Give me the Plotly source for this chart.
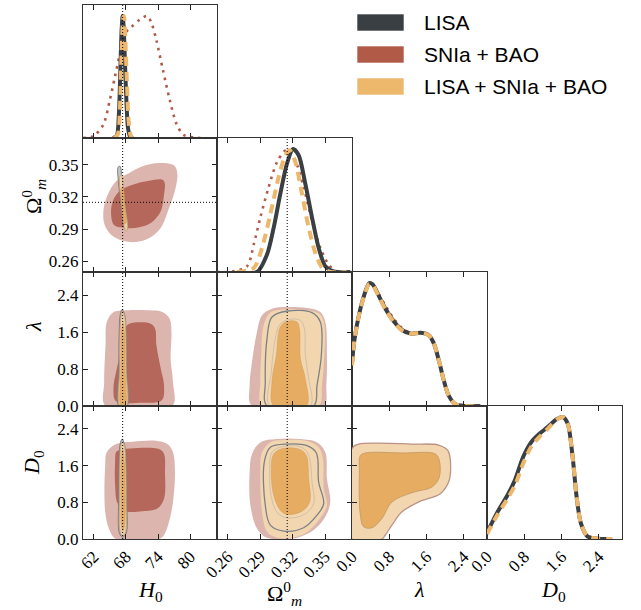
import plotly.graph_objects as go

# ---------------- data ----------------
H0_FID = 67.4
OM_FID = 0.315

H0_TICKS = [62, 68, 74, 80]
OM_TICKS = [0.26, 0.29, 0.32, 0.35]
LD_TICKS = [0.0, 0.8, 1.6, 2.4]
H0_RANGE = [60, 85]
OM_RANGE = [0.25, 0.375]
LD_RANGE = [0, 2.9]
PDF_RANGE = [0, 1.09]

SERIES = ["LISA", "SNIa + BAO", "LISA + SNIa + BAO"]

# 1D marginal: H0
h0_snia_x = [60.0, 61.9, 63.8, 65.0, 65.95, 66.9, 68.1, 69.05, 70.6, 72.0, 72.8, 73.7, 74.9, 76.2, 77.4, 78.7, 80.5, 82.4]
h0_snia_y = [0.0, 0.014, 0.11, 0.31, 0.50, 0.69, 0.87, 0.91, 0.97, 1.0, 0.94, 0.80, 0.56, 0.31, 0.12, 0.027, 0.005, 0.0]
h0_lisa_x = [65.6, 66.3, 66.7, 67.0, 67.2, 67.4, 67.6, 67.8, 68.1, 68.4, 68.8, 69.3]
h0_lisa_y = [0.0, 0.02, 0.2, 0.6, 0.88, 1.0, 0.9, 0.65, 0.3, 0.08, 0.01, 0.0]
h0_comb_x = [65.8, 66.5, 66.9, 67.2, 67.5, 67.65, 67.9, 68.2, 68.5, 68.9, 69.3]
h0_comb_y = [0.0, 0.03, 0.25, 0.7, 0.98, 1.0, 0.8, 0.45, 0.15, 0.02, 0.0]

# 1D marginal: Omega_m
om_lisa_x = [0.2685, 0.287, 0.2963, 0.3025, 0.3086, 0.3148, 0.3204, 0.3256, 0.3318, 0.338, 0.3441, 0.3503, 0.358, 0.3734]
om_lisa_y = [0.0, 0.0, 0.142, 0.361, 0.635, 0.881, 1.0, 0.95, 0.717, 0.443, 0.197, 0.047, 0.005, 0.0]
om_snia_x = [0.25, 0.2608, 0.2778, 0.284, 0.2901, 0.2978, 0.3056, 0.3133, 0.3163, 0.3225, 0.3302, 0.338, 0.3457, 0.3534, 0.3611, 0.375]
om_snia_y = [0.0, 0.0, 0.047, 0.224, 0.443, 0.69, 0.895, 0.99, 0.99, 0.91, 0.69, 0.416, 0.197, 0.06, 0.0, 0.0]
om_comb_x = [0.2685, 0.284, 0.2917, 0.2994, 0.3071, 0.3133, 0.3173, 0.3225, 0.3287, 0.3349, 0.341, 0.3472, 0.3549, 0.37]
om_comb_y = [0.0, 0.033, 0.197, 0.471, 0.772, 0.95, 0.99, 0.895, 0.635, 0.361, 0.156, 0.038, 0.0, 0.0]

# 1D marginal: lambda
lam_x = [0.0, 0.05, 0.157, 0.264, 0.371, 0.441, 0.584, 0.727, 0.905, 1.083, 1.261, 1.475, 1.653, 1.76, 1.867, 1.974, 2.081, 2.223, 2.437, 2.757]
lam_lisa_y = [0.342, 0.534, 0.753, 0.904, 1.0, 0.99, 0.89, 0.786, 0.685, 0.616, 0.589, 0.595, 0.575, 0.507, 0.37, 0.205, 0.082, 0.014, 0.0, 0.0]
lam_snia_y = [0.342, 0.534, 0.753, 0.904, 1.0, 0.99, 0.905, 0.81, 0.705, 0.63, 0.595, 0.597, 0.575, 0.507, 0.37, 0.205, 0.082, 0.014, 0.0, 0.0]
lam_comb_y = [0.33, 0.53, 0.75, 0.90, 0.995, 0.985, 0.885, 0.78, 0.68, 0.612, 0.588, 0.595, 0.575, 0.507, 0.37, 0.205, 0.082, 0.014, 0.0, 0.0]

# 1D marginal: D0
d0_x = [0.0, 0.212, 0.424, 0.601, 0.778, 0.955, 1.132, 1.309, 1.485, 1.627, 1.733, 1.839, 1.924, 2.016, 2.157, 2.334, 2.688]
d0_lisa_y = [0.05, 0.212, 0.348, 0.484, 0.674, 0.796, 0.864, 0.919, 0.979, 1.0, 0.946, 0.674, 0.348, 0.130, 0.022, 0.005, 0.0]
d0_snia_y = [0.05, 0.215, 0.352, 0.49, 0.68, 0.80, 0.866, 0.92, 0.979, 1.0, 0.946, 0.674, 0.348, 0.130, 0.022, 0.005, 0.0]
d0_comb_y = [0.04, 0.19, 0.32, 0.44, 0.62, 0.76, 0.84, 0.905, 0.975, 1.0, 0.946, 0.674, 0.348, 0.130, 0.022, 0.005, 0.0]

# 2D contours (x, y)
# --- H0 vs Omega_m
snia95_h0_om = [(76.98, 0.3495), (74.2, 0.3517), (71.1, 0.3486), (68.64, 0.3424), (66.17, 0.3346), (64.63, 0.3222),
                (63.83, 0.3082), (64.01, 0.2942), (65.25, 0.2848), (67.41, 0.2792), (69.88, 0.278), (72.35, 0.2817),
                (74.51, 0.2911), (76.05, 0.3097), (77.28, 0.3284), (77.59, 0.3424)]
snia68_h0_om = [(74.81, 0.3361), (72.35, 0.3352), (69.26, 0.3315), (66.79, 0.3253), (65.56, 0.3159), (65.25, 0.3035),
                (65.86, 0.2935), (68.02, 0.2911), (70.49, 0.2917), (72.65, 0.2957), (74.51, 0.3066), (75.12, 0.3222),
                (75.25, 0.333)]
lisa95_h0_om = [(66.54, 0.3477), (66.91, 0.3486), (67.28, 0.3346), (67.84, 0.3128), (68.33, 0.2917), (68.09, 0.2886),
                (67.65, 0.2926), (67.1, 0.3128), (66.6, 0.3346)]
comb95_h0_om = [(66.85, 0.3386), (67.16, 0.3408), (67.78, 0.3128), (68.33, 0.2911), (68.09, 0.288), (67.78, 0.2904),
                (67.22, 0.3128)]
comb68_h0_om = [(67.16, 0.3284), (67.4, 0.329), (67.84, 0.3097), (68.02, 0.2957), (67.78, 0.2948), (67.35, 0.3097)]

# --- H0 vs lambda
snia95_h0_lam = [(64.2, 0.0), (63.95, 0.519), (64.2, 1.313), (64.44, 1.818), (65.56, 2.02), (68.02, 2.07), (72.35, 2.07),
                 (74.81, 2.034), (76.17, 1.89), (76.5, 1.6), (76.35, 1.024), (76.78, 0.519), (76.66, 0.0)]
snia68_h0_lam = [(68.64, 1.782), (72.65, 1.782), (73.45, 1.674), (73.7, 1.313), (74.51, 0.808), (75.12, 0.447),
                 (74.69, 0.123), (70.49, 0.072), (66.17, 0.101), (65.68, 0.375), (66.3, 0.808), (67.72, 1.457), (68.02, 1.71)]
lisa95_h0_lam = [(66.7, 0.0), (66.68, 0.8), (66.75, 1.6), (66.95, 1.98), (67.3, 2.09), (67.75, 1.98), (68.05, 1.6),
                 (68.15, 0.8), (68.2, 0.0)]
comb95_h0_lam = [(66.88, 0.0), (66.86, 0.8), (66.92, 1.6), (67.1, 1.95), (67.4, 2.05), (67.75, 1.95), (67.98, 1.6),
                 (68.05, 0.8), (68.08, 0.0)]
comb68_h0_lam = [(67.1, 0.0), (67.1, 0.8), (67.15, 1.55), (67.45, 1.8), (67.75, 1.55), (67.82, 0.8), (67.84, 0.0)]

# --- H0 vs D0
snia95_h0_d0 = [(66.17, 0.0), (64.94, 0.195), (64.14, 0.592), (64.14, 1.602), (64.44, 1.89), (66.17, 2.07), (69.26, 2.121),
                (73.58, 2.143), (75.74, 2.07), (76.79, 1.89), (77.16, 1.457), (76.79, 0.808), (76.05, 0.375),
                (75.12, 0.087), (74.2, 0.0)]
snia68_h0_d0 = [(66.17, 1.89), (66.79, 1.94), (74.2, 1.962), (75.12, 1.854), (75.3, 1.457), (75.12, 0.88), (73.88, 0.664),
                (71.1, 0.606), (68.02, 0.606), (66.48, 0.772), (65.99, 1.169), (65.99, 1.674)]
lisa95_h0_d0 = [(66.8, 0.12), (66.62, 0.8), (66.7, 1.6), (66.9, 2.05), (67.3, 2.18), (67.75, 2.05), (68.05, 1.6),
                (68.18, 0.8), (68.05, 0.12), (67.4, 0.04)]
comb95_h0_d0 = [(66.95, 0.15), (66.8, 0.8), (66.86, 1.6), (67.05, 2.02), (67.4, 2.12), (67.75, 2.02), (67.98, 1.6),
                (68.05, 0.8), (67.95, 0.15), (67.45, 0.06)]
comb68_h0_d0 = [(67.15, 0.3), (67.08, 0.8), (67.12, 1.6), (67.4, 1.96), (67.75, 1.6), (67.84, 0.8), (67.75, 0.3),
                (67.45, 0.18)]

# --- Omega_m vs lambda
snia95_om_lam = [(0.2824, 0.0), (0.2802, 0.447), (0.2824, 0.952), (0.2864, 1.529), (0.2917, 1.962), (0.3009, 2.106),
                 (0.3148, 2.143), (0.3333, 2.121), (0.3457, 2.034), (0.3503, 1.818), (0.3518, 1.097), (0.3512, 0.447),
                 (0.3488, 0.0)]
comb95_om_lam = [(0.2917, 0.0), (0.2901, 0.519), (0.291, 1.097), (0.2932, 1.746), (0.2994, 2.02), (0.3148, 2.092),
                 (0.3333, 2.07), (0.3457, 1.977), (0.3494, 1.746), (0.3494, 1.097), (0.3472, 0.447), (0.3441, 0.0)]
lisa95_om_lam = [(0.2963, 0.0), (0.2947, 0.519), (0.2963, 1.457), (0.3009, 1.926), (0.3154, 2.056), (0.3379, 2.02),
                 (0.3457, 1.818), (0.3466, 1.097), (0.3426, 0.447), (0.3395, 0.0)]
comb68_om_lam = [(0.3025, 0.0), (0.3009, 0.519), (0.3049, 1.097), (0.3086, 1.71), (0.3148, 1.832), (0.3241, 1.818),
                 (0.3265, 1.638), (0.3272, 1.024), (0.3318, 0.592), (0.3327, 0.0)]
lisa68_om_lam = [(0.2988, 0.0), (0.3003, 0.736), (0.304, 1.457), (0.308, 1.76), (0.3154, 1.868), (0.3272, 1.854),
                 (0.3309, 1.674), (0.3318, 1.097), (0.3349, 0.592), (0.3364, 0.0)]

# --- Omega_m vs D0
snia95_om_d0 = [(0.2963, 0.029), (0.287, 0.231), (0.2809, 0.736), (0.2802, 1.457), (0.2824, 1.854), (0.2901, 2.106),
                (0.3056, 2.179), (0.3272, 2.179), (0.3426, 2.106), (0.3503, 1.89), (0.3518, 1.313), (0.3549, 0.808),
                (0.3503, 0.483), (0.3395, 0.195), (0.3241, 0.029)]
comb95_om_d0 = [(0.3056, 0.029), (0.2963, 0.159), (0.2917, 0.592), (0.2901, 1.457), (0.2917, 1.89), (0.2994, 2.106),
                (0.3148, 2.157), (0.3333, 2.135), (0.3441, 1.998), (0.3481, 1.746), (0.3488, 1.097), (0.3518, 0.736),
                (0.3441, 0.411), (0.3318, 0.123), (0.3194, 0.029)]
lisa95_om_d0 = [(0.2938, 1.674), (0.2994, 1.998), (0.3154, 2.07), (0.3333, 2.034), (0.342, 1.876), (0.3441, 1.241),
                (0.3488, 0.772), (0.3426, 0.519), (0.3302, 0.245), (0.3117, 0.173), (0.2994, 0.303), (0.2947, 0.736)]
comb68_om_d0 = [(0.3025, 1.854), (0.3117, 1.977), (0.3272, 1.948), (0.3327, 1.818), (0.3349, 1.313), (0.3358, 0.808),
                (0.3287, 0.606), (0.3148, 0.534), (0.3086, 0.628), (0.3025, 0.952), (0.3003, 1.457)]
lisa68_om_d0 = [(0.2988, 1.457), (0.3009, 1.89), (0.3117, 2.02), (0.3287, 1.998), (0.3349, 1.818), (0.338, 1.241),
                (0.3395, 0.772), (0.3309, 0.534), (0.3148, 0.462), (0.3056, 0.577), (0.3, 0.952)]

# --- lambda vs D0
comb95_lam_d0 = [(0.0, 0.0), (0.0, 1.977), (0.143, 2.07), (0.573, 2.092), (1.289, 2.07), (1.862, 2.049), (2.062, 1.926),
                 (2.119, 1.602), (2.076, 1.241), (1.897, 0.988), (1.432, 0.808), (1.074, 0.592), (0.859, 0.303),
                 (0.716, 0.087), (0.644, 0.0)]
comb68_lam_d0 = [(0.179, 1.818), (0.286, 1.876), (1.074, 1.876), (1.79, 1.854), (1.876, 1.71), (1.876, 1.349),
                 (1.718, 1.133), (1.289, 1.01), (0.859, 0.808), (0.644, 0.447), (0.43, 0.245), (0.251, 0.267),
                 (0.179, 0.519), (0.158, 1.457)]

# ---------------- styling ----------------
W, H = 641, 610
C_LISA = "#3a3f44"
C_SNIA = "#b15a48"
C_COMB = "#edb76c"
PINK95 = "#dcb6ae"
RED68 = "#b4675a"
LOR95 = "#f2d6b0"
OR68 = "#e6ad62"
GRAYL = "#7d8186"
SERIF = "Liberation Serif"
SANS = "Liberation Sans"
TICKSIZE = 17

COLS = [(83, 217), (217, 352), (352, 487), (487, 622)]
ROWS = [(5, 138), (138, 272), (272, 406), (406, 539)]
PARAM_RANGE = [H0_RANGE, OM_RANGE, LD_RANGE, LD_RANGE]
PARAM_TICKS = [H0_TICKS, OM_TICKS, LD_TICKS, LD_TICKS]
PARAM_FMT = ["d", ".2f", ".1f", ".1f"]

panels = [(r, c) for r in range(4) for c in range(r + 1)]
axid = {p: i + 1 for i, p in enumerate(panels)}

fig = go.Figure()


def axnames(r, c):
    n = axid[(r, c)]
    return ("x" if n == 1 else f"x{n}"), ("y" if n == 1 else f"y{n}")


def poly(r, c, pts, fill, line="rgba(0,0,0,0)", lw=0.0, dofill=True):
    xa, ya = axnames(r, c)
    xs = [p[0] for p in pts] + [pts[0][0]]
    ys = [p[1] for p in pts] + [pts[0][1]]
    fig.add_trace(go.Scatter(x=xs, y=ys, mode="lines", fill="toself" if dofill else "none",
                             fillcolor=fill, line=dict(color=line, width=lw, shape="spline", smoothing=1.0),
                             xaxis=xa, yaxis=ya, hoverinfo="skip", showlegend=False))


def curve(r, c, x, y, color, width, dash):
    xa, ya = axnames(r, c)
    fig.add_trace(go.Scatter(x=x, y=y, mode="lines",
                             line=dict(color=color, width=width, dash=dash, shape="spline", smoothing=0.8),
                             xaxis=xa, yaxis=ya, hoverinfo="skip", showlegend=False))


def vline(r, c, xv, yr):
    xa, ya = axnames(r, c)
    fig.add_trace(go.Scatter(x=[xv, xv], y=yr, mode="lines", line=dict(color="black", width=1, dash="1px,2px"),
                             xaxis=xa, yaxis=ya, hoverinfo="skip", showlegend=False))


def hline(r, c, yv, xr):
    xa, ya = axnames(r, c)
    fig.add_trace(go.Scatter(x=xr, y=[yv, yv], mode="lines", line=dict(color="black", width=1, dash="1px,2px"),
                             xaxis=xa, yaxis=ya, hoverinfo="skip", showlegend=False))


def marg(r, lx, ly, sx, sy, cx, cy):
    curve(r, r, sx, sy, C_SNIA, 2.6, "2.6px,5px")
    curve(r, r, lx, ly, C_LISA, 4, "solid")
    curve(r, r, cx, cy, C_COMB, 4, "9px,6px")


# diagonals
marg(0, h0_lisa_x, h0_lisa_y, h0_snia_x, h0_snia_y, h0_comb_x, h0_comb_y)
vline(0, 0, H0_FID, PDF_RANGE)
marg(1, om_lisa_x, om_lisa_y, om_snia_x, om_snia_y, om_comb_x, om_comb_y)
vline(1, 1, OM_FID, PDF_RANGE)
marg(2, lam_x, lam_lisa_y, lam_x, lam_snia_y, lam_x, lam_comb_y)
marg(3, d0_x, d0_lisa_y, d0_x, d0_snia_y, d0_x, d0_comb_y)

# H0 column
for r, s95, s68, l95, c95, c68, yr in [
    (1, snia95_h0_om, snia68_h0_om, lisa95_h0_om, comb95_h0_om, comb68_h0_om, OM_RANGE),
    (2, snia95_h0_lam, snia68_h0_lam, lisa95_h0_lam, comb95_h0_lam, comb68_h0_lam, LD_RANGE),
    (3, snia95_h0_d0, snia68_h0_d0, lisa95_h0_d0, comb95_h0_d0, comb68_h0_d0, LD_RANGE)]:
    poly(r, 0, s95, PINK95)
    poly(r, 0, s68, RED68)
    poly(r, 0, l95, "rgba(150,150,148,0.55)", GRAYL, 1.0)
    poly(r, 0, c95, "rgba(242,212,170,0.9)", "rgba(200,160,110,0.9)", 0.8)
    poly(r, 0, c68, OR68, "rgba(210,150,80,0.8)", 0.6)
    vline(r, 0, H0_FID, yr)
hline(1, 0, OM_FID, H0_RANGE)

# Omega_m column
for r, s95, c95, l95, c68, l68 in [
    (2, snia95_om_lam, comb95_om_lam, lisa95_om_lam, comb68_om_lam, lisa68_om_lam),
    (3, snia95_om_d0, comb95_om_d0, lisa95_om_d0, comb68_om_d0, lisa68_om_d0)]:
    poly(r, 1, s95, PINK95)
    poly(r, 1, c95, LOR95)
    poly(r, 1, l95, "rgba(0,0,0,0)", GRAYL, 1.3, dofill=False)
    poly(r, 1, c68, OR68, "rgba(200,150,90,0.7)", 0.6)
    poly(r, 1, l68, "rgba(0,0,0,0)", "rgba(150,150,150,0.45)", 0.8, dofill=False)
    vline(r, 1, OM_FID, LD_RANGE)

# lambda column
poly(3, 2, comb95_lam_d0, LOR95, "rgba(165,120,110,0.75)", 1.3)
poly(3, 2, comb68_lam_d0, OR68, "rgba(190,145,95,0.7)", 1.0)

# ---------------- axes ----------------
layout = {}
for (r, c), n in axid.items():
    xk = "xaxis" if n == 1 else f"xaxis{n}"
    yk = "yaxis" if n == 1 else f"yaxis{n}"
    xa, ya = axnames(r, c)
    x0, x1 = COLS[c]
    y0, y1 = ROWS[r]
    diag = (r == c)
    layout[xk] = dict(domain=[x0 / W, x1 / W], anchor=ya, range=PARAM_RANGE[c], automargin=False,
                      tickvals=PARAM_TICKS[c], tickformat=PARAM_FMT[c],
                      showticklabels=(r == 3), tickangle=-45,
                      ticks="inside", ticklen=5, tickwidth=1.2, tickcolor="#222",
                      showline=True, linecolor="#333", linewidth=1.2, mirror="ticks",
                      showgrid=False, zeroline=False,
                      tickfont=dict(family=SERIF, size=TICKSIZE, color="black"))
    if diag:
        layout[yk] = dict(domain=[1 - y1 / H, 1 - y0 / H], anchor=xa, range=PDF_RANGE, automargin=False,
                          showticklabels=False, ticks="", showline=True, linecolor="#333",
                          linewidth=1.2, mirror=True, showgrid=False, zeroline=False)
    else:
        layout[yk] = dict(domain=[1 - y1 / H, 1 - y0 / H], anchor=xa, range=PARAM_RANGE[r], automargin=False,
                          tickvals=PARAM_TICKS[r], tickformat=PARAM_FMT[r],
                          showticklabels=(c == 0),
                          ticks="inside", ticklen=5, tickwidth=1.2, tickcolor="#222",
                          showline=True, linecolor="#333", linewidth=1.2, mirror="ticks",
                          showgrid=False, zeroline=False,
                          tickfont=dict(family=SERIF, size=TICKSIZE, color="black"))

# axis titles
annotations = []
xtitles = ["<i>H</i><sub>0</sub>", "Ω<sup>0</sup><sub><i>m</i></sub>", "<i>λ</i>", "<i>D</i><sub>0</sub>"]
xt_pos = [(150, 591), (284, 593), (419, 589), (553, 591)]
for t, (px, py) in zip(xtitles, xt_pos):
    annotations.append(dict(text=t, x=px / W, y=1 - py / H, xref="paper", yref="paper", showarrow=False,
                            xanchor="center", yanchor="middle", font=dict(family=SERIF, size=22, color="black")))
ytitles = [("Ω<sup>0</sup><sub><i>m</i></sub>", 197), ("<i>λ</i>", 327), ("<i>D</i><sub>0</sub>", 463)]
for t, py in ytitles:
    annotations.append(dict(text=t, x=33 / W, y=1 - py / H, xref="paper", yref="paper", showarrow=False,
                            textangle=-90, xanchor="center", yanchor="middle",
                            font=dict(family=SERIF, size=22, color="black")))

# legend (manual)
shapes = []
for i, (name, col) in enumerate(zip(SERIES, [C_LISA, C_SNIA, C_COMB])):
    top = 14 + 32 * i
    shapes.append(dict(type="rect", xref="paper", yref="paper", x0=357 / W, x1=404 / W,
                       y0=1 - (top + 17) / H, y1=1 - top / H, fillcolor=col,
                       line=dict(color="rgba(255,255,255,0.6)", width=1)))
    annotations.append(dict(text=name, x=422 / W, y=1 - (top + 8.5) / H, xref="paper", yref="paper",
                            showarrow=False, xanchor="left", yanchor="middle",
                            font=dict(family=SANS, size=21, color="black")))

fig.update_layout(width=W, height=H, margin=dict(l=0, r=0, t=0, b=0), paper_bgcolor="white",
                  plot_bgcolor="white", showlegend=False, annotations=annotations, shapes=shapes, **layout)

fig.write_html("out.html")
